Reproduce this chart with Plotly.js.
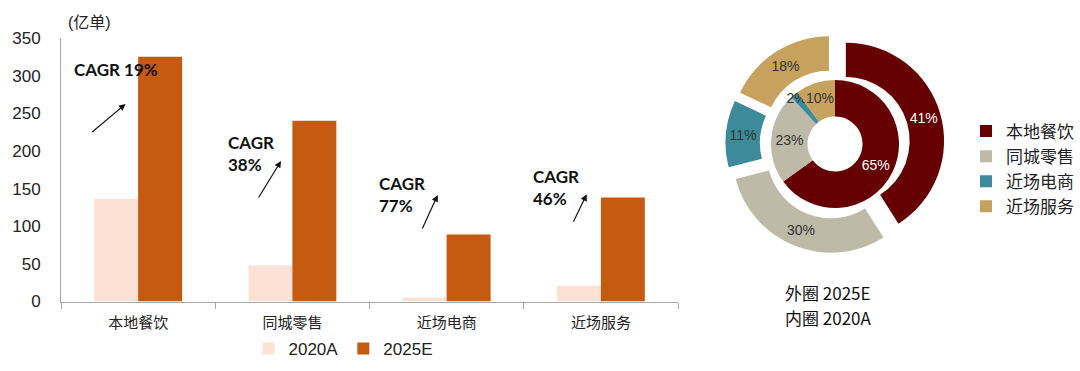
<!DOCTYPE html>
<html>
<head>
<meta charset="utf-8">
<script src="https://cdn.plot.ly/plotly-3.0.1.min.js"></script>
<style>html,body{margin:0;padding:0;background:#fff;}#chart{width:1080px;height:371px;}</style>
</head>
<body>
<div id="chart"></div>
<script>
// ---- data ----
const categories = ['本地餐饮', '同城零售', '近场电商', '近场服务'];
const orders2020A = [136, 48, 5, 21];
const orders2025E = [325, 240, 89, 138];
const cagrLabels = ['CAGR 19%', 'CAGR<br>38%', 'CAGR<br>77%', 'CAGR<br>46%'];
const seriesNames = ['2020A', '2025E'];
const yTicks = [0, 50, 100, 150, 200, 250, 300, 350];
const donutColors = ['#660000', '#BDBAA7', '#3D8A9A', '#C6A25E'];
const pctOuter = [41, 30, 11, 18];   // 外圈 2025E share (%)
const pctInner = [65, 23, 2, 10];    // 内圈 2020A share (%)

const W = 1080, H = 371;
const px = x => x / W;
const py = y => 1 - y / H;

const cjk = '"Liberation Sans", Arial, "Noto Sans CJK SC", sans-serif';

const traces = [
  {
    type: 'bar', name: seriesNames[0], x: categories, y: orders2020A,
    marker: {color: '#FBE2D5'}, xaxis: 'x', yaxis: 'y', legend: 'legend',
    hoverinfo: 'skip'
  },
  {
    type: 'bar', name: seriesNames[1], x: categories, y: orders2025E,
    marker: {color: '#C55A11'}, xaxis: 'x', yaxis: 'y', legend: 'legend',
    hoverinfo: 'skip'
  },
  {
    type: 'pie', labels: categories, values: pctOuter, sort: false,
    direction: 'clockwise', rotation: 0, hole: 0.65,
    pull: [0.115, 0.115, 0.115, 0.115],
    marker: {colors: donutColors, line: {width: 0}},
    texttemplate: '%{value}%', textposition: 'inside',
    insidetextorientation: 'horizontal',
    textfont: {family: cjk, size: 14, color: ['#ffffff', '#333333', '#333333', '#333333']},
    domain: {x: [px(725.5), px(944.5)], y: [py(253.5), py(34.5)]},
    legend: 'legend2', showlegend: true, hoverinfo: 'skip'
  },
  {
    type: 'pie', labels: categories, values: pctInner, sort: false,
    direction: 'clockwise', rotation: 0, hole: 0.43,
    marker: {colors: donutColors, line: {width: 0}},
    texttemplate: '%{value}%', textposition: 'inside',
    insidetextorientation: 'horizontal',
    textfont: {family: cjk, size: 14, color: ['#ffffff', '#333333', '#333333', '#333333']},
    domain: {x: [px(771), px(899)], y: [py(208), py(80)]},
    legend: 'legend2', showlegend: false, hoverinfo: 'skip'
  }
];

// CAGR labels & arrows
const cagrPos = [[72, 70], [226, 153], [377, 194], [531, 187]];
const arrows = [
  [[90.7, 133.3], [125.5, 104]],
  [[257.7, 199], [281, 161]],
  [[421.7, 230], [437.7, 195]],
  [[572.7, 223.3], [586.7, 194.3]]
];

const annotations = [];
cagrLabels.forEach((t, i) => {
  annotations.push({
    xref: 'paper', yref: 'paper', x: px(cagrPos[i][0]), y: py(cagrPos[i][1]),
    xanchor: 'left', yanchor: 'middle', align: 'left', showarrow: false,
    text: '<b>' + t + '</b>',
    font: {family: 'Lato, "Open Sans", sans-serif', size: 17, color: '#111'}
  });
  const [tail, head] = arrows[i];
  annotations.push({
    xref: 'paper', yref: 'paper', x: px(head[0]), y: py(head[1]),
    ax: tail[0] - head[0], ay: tail[1] - head[1],
    text: '', showarrow: true, arrowhead: 2, arrowsize: 1.1, arrowwidth: 1.2,
    arrowcolor: '#111', standoff: 0, startstandoff: 0
  });
});
annotations.push({
  xref: 'paper', yref: 'paper', x: px(66), y: py(22), xanchor: 'left', yanchor: 'middle',
  showarrow: false, text: '(亿单)', font: {family: cjk, size: 16, color: '#222'}
});
annotations.push({
  xref: 'paper', yref: 'paper', x: px(828), y: py(292), xanchor: 'center', yanchor: 'middle',
  showarrow: false, text: '外圈 2025E',
  font: {family: '"Noto Sans CJK SC", sans-serif', size: 17, color: '#111'}
});
annotations.push({
  xref: 'paper', yref: 'paper', x: px(828), y: py(317), xanchor: 'center', yanchor: 'middle',
  showarrow: false, text: '内圈 2020A',
  font: {family: '"Noto Sans CJK SC", sans-serif', size: 17, color: '#111'}
});

const layout = {
  width: W, height: H,
  margin: {l: 0, r: 0, t: 0, b: 0},
  paper_bgcolor: '#fff', plot_bgcolor: '#fff',
  font: {family: cjk, color: '#222'},
  barmode: 'group', bargap: 0.43, bargroupgap: 0,
  xaxis: {
    domain: [px(61), px(678)], type: 'category',
    showline: true, linecolor: '#A6A6A6', linewidth: 1,
    ticks: 'outside', tickson: 'boundaries', ticklen: 6, tickcolor: '#A6A6A6',
    tickfont: {family: cjk, size: 15, color: '#222'},
    ticklabelstandoff: 7,
    showgrid: false, zeroline: false, fixedrange: true
  },
  yaxis: {
    domain: [py(301.5), py(38)], range: [0, 350],
    tickvals: yTicks, ticktext: yTicks.map(String),
    showline: true, linecolor: '#A6A6A6', linewidth: 1,
    ticks: '', showgrid: false, zeroline: false,
    tickfont: {family: '"Liberation Sans", Arial, sans-serif', size: 17, color: '#222'},
    ticklabelstandoff: 16, fixedrange: true
  },
  legend: {
    orientation: 'h', x: px(343), y: py(349), xanchor: 'center', yanchor: 'middle',
    font: {family: '"Liberation Sans", Arial, sans-serif', size: 17, color: '#222'},
    itemwidth: 30, bgcolor: 'rgba(0,0,0,0)'
  },
  legend2: {
    orientation: 'v', x: px(966), y: py(169), xanchor: 'left', yanchor: 'middle',
    font: {family: cjk, size: 17, color: '#222'},
    itemwidth: 30, tracegroupgap: 0, bgcolor: 'rgba(0,0,0,0)'
  },
  uniformtext: {mode: 'show', minsize: 14},
  annotations: annotations,
  showlegend: true
};

Plotly.newPlot('chart', traces, layout, {displayModeBar: false, staticPlot: true});
</script>
</body>
</html>
